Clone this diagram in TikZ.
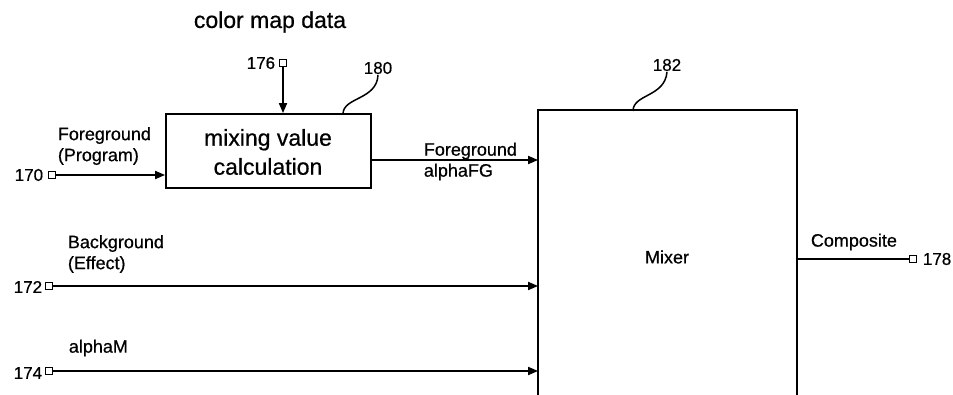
\documentclass[tikz,border=0pt]{standalone}
\usepackage{fontspec}
\setmainfont{Liberation Sans}[FakeBold=0.6]
\usetikzlibrary{arrows.meta}
\begin{document}
\begin{tikzpicture}[x=1pt,y=-1pt,
  line width=1.8pt,
  arr/.style={-{Triangle[length=10pt,width=8pt]}},
  port/.style={draw,line width=1.1pt,rectangle,minimum size=6.5pt,inner sep=0pt,fill=white},
  lbl/.style={font=\fontsize{18}{21}\selectfont,align=left,inner sep=0pt},
  num/.style={font=\fontsize{17}{20}\selectfont,inner sep=0pt},
  big/.style={font=\fontsize{23}{29}\selectfont,align=center,inner sep=0pt}]
\useasboundingbox (0,0) rectangle (953,395);
% blocks
\node[draw,minimum width=205pt,minimum height=74pt,inner sep=0pt] (mix) at (268.5,151) {};
\node[big] (mixtxt) at (268,152) {mixing value\\calculation};
\node[minimum width=257pt,minimum height=284pt,inner sep=0pt] (mixer) at (667.5,253) {};
\draw (mixer.south west) -- (mixer.north west) -- (mixer.north east) -- (mixer.south east);
\node[lbl] (mixerlbl) at (667,257) {Mixer};
% top label
\node[big] (cmd) at (270,22) {color map data};
% ports
\node[port] (p176) at (283,63) {};
\node[num,anchor=east] (n176) at (276,63) {176};
\node[port] (p170) at (52,175) {};
\node[num,anchor=east] (n170) at (44,175) {170};
\node[port] (p172) at (49,286) {};
\node[num,anchor=east] (n172) at (43,287) {172};
\node[port] (p174) at (49,371) {};
\node[num,anchor=east] (n174) at (43,373) {174};
\node[port] (p178) at (913,259) {};
\node[num,anchor=west] (n178) at (922,259) {178};
% connectors
\draw[arr] (p176.south) -- (p176.south |- mix.north);
\draw[arr] (p170.east) -- (p170 -| mix.west);
\coordinate (fgy) at (0,160);
\draw[arr] (mix.east |- fgy) -- (mixer.west |- fgy);
\draw[arr] (p172.east) -- (p172 -| mixer.west);
\draw[arr] (p174.east) -- (p174 -| mixer.west);
\coordinate (cy) at (0,259);
\draw (mixer.east |- cy) -- (p178.west);
% signal labels
\node[lbl,anchor=west] (l170) at (57,146) {Foreground\\(Program)};
\node[lbl,anchor=west] (lfg) at (423,161.5) {Foreground\\alphaFG};
\node[lbl,anchor=west] (l172) at (67,254) {Background\\(Effect)};
\node[lbl,anchor=west] (l174) at (68,348) {alphaM};
\node[lbl,anchor=west] (l178) at (810,242) {Composite};
% reference numerals with leaders
\node[num] (n180) at (378,68) {180};
\coordinate (s180) at (343,114);
\draw[line width=1.5pt] (s180) .. controls (343,97) and (377,100) .. (n180.south);
\node[num] (n182) at (667,65) {182};
\coordinate (s182) at (633,111);
\draw[line width=1.5pt] (s182) .. controls (633,94) and (665,97) .. (n182.south);
\end{tikzpicture}
\end{document}
